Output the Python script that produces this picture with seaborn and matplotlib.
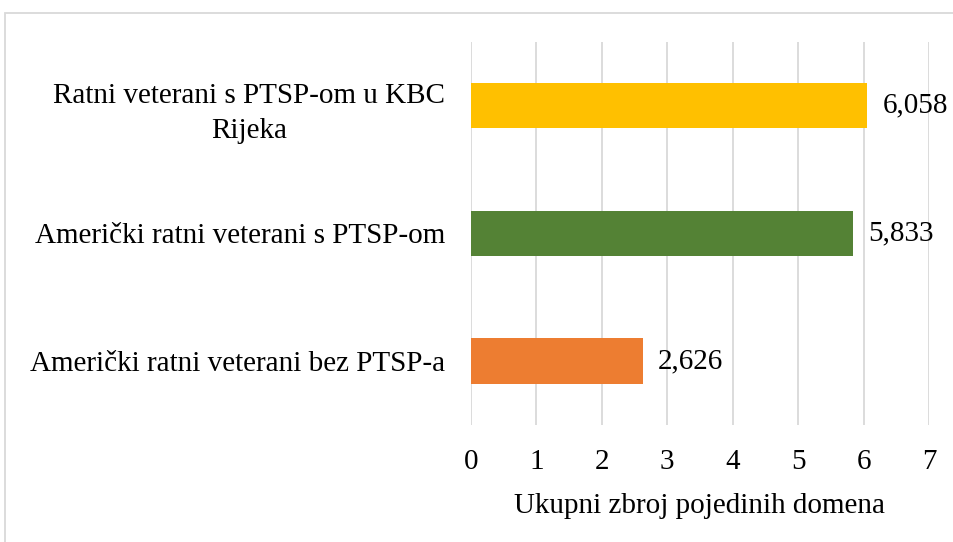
import matplotlib
matplotlib.use("Agg")
import matplotlib.pyplot as plt
import seaborn as sns
import pandas as pd
from matplotlib.patches import Rectangle

# Data
groups = ["Ratni veterani s PTSP-om u KBC\nRijeka",
          "Američki ratni veterani s PTSP-om",
          "Američki ratni veterani bez PTSP-a"]
values = [6.058, 5.833, 2.626]
colors = ["#FFC000", "#548235", "#ED7D31"]

df = pd.DataFrame({"group": groups, "value": values})

sns.set_theme(style="white")
plt.rcParams["font.family"] = ["Liberation Serif", "DejaVu Serif"]

fig = plt.figure(figsize=(9.54, 5.42), dpi=100)
ax = fig.add_axes([0.4937, 0.2159, 0.4801, 0.7066])

sns.barplot(data=df, y="group", x="value", hue="group", palette=colors,
            orient="h", width=0.355, legend=False, ax=ax, zorder=3,
            saturation=1, linewidth=0)

ax.set_xlim(0, 7)
ax.set_ylim(2.5, -0.5)
ax.set_xticks(range(0, 8))
ax.xaxis.grid(True, color="#D9D9D9", linewidth=1.3, zorder=0)
ax.set_axisbelow(True)
for s in ax.spines.values():
    s.set_visible(False)
ax.tick_params(axis="x", length=0, pad=17, labelsize=21, colors="black")
ax.tick_params(axis="y", length=0, pad=18.5, labelsize=21, colors="black")
for lbl in ax.get_yticklabels():
    lbl.set_multialignment("center")
    lbl.set_linespacing(1.45)
ax.set_ylabel("")
ax.set_xlabel("Ukupni zbroj pojedinih domena", fontsize=21, labelpad=13,
              color="black")

for i, v in enumerate(values):
    ax.text(v + 0.23, i, f"{v:.3f}".replace(".", ","), va="center", ha="left",
            fontsize=21, color="black")

# light frame around chart area
fig.patches.append(Rectangle((5 / 954, -0.01), 1.0, 1 - 13 / 542 + 0.01,
                             transform=fig.transFigure, fill=False,
                             edgecolor="#D9D9D9", linewidth=1.3))

fig.savefig("out.png", dpi=100)
